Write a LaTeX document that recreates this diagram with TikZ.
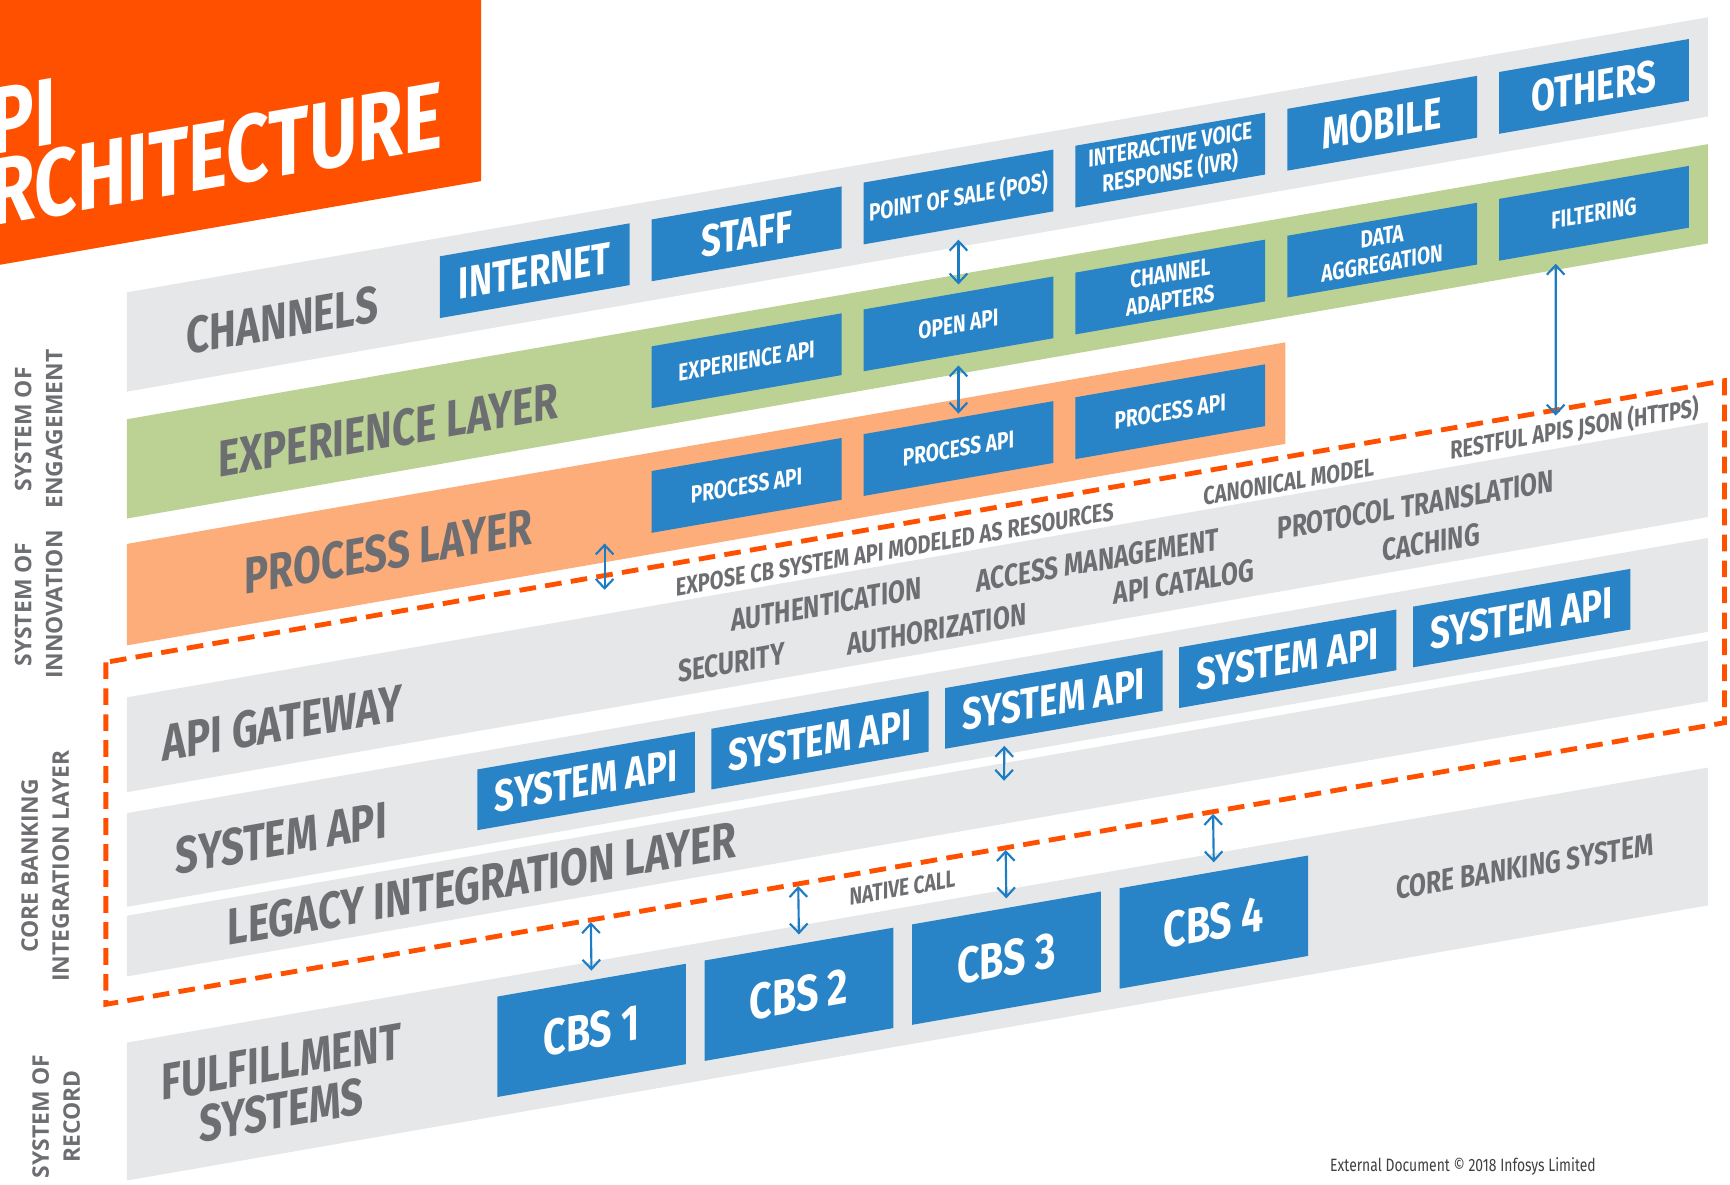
\documentclass[tikz,border=0pt]{standalone}
\usepackage{fontspec}
\usepackage{xcolor}
\usepackage{tikz}
\usetikzlibrary{arrows.meta}

\newfontfamily\narrowfont{Fira Sans}[FakeStretch=0.78]
\newfontfamily\sidefont{Open Sans}

\definecolor{tileblue}{HTML}{2884C6}
\definecolor{linkblue}{HTML}{1C7CC4}
\definecolor{bandgray}{HTML}{E6E7E8}
\definecolor{bandgreen}{HTML}{BCD294}
\definecolor{bandorange}{HTML}{FDAD7A}
\definecolor{brandorange}{HTML}{FF5000}
\definecolor{textgray}{HTML}{6D6E71}

\tikzstyle{tile} = [
    rectangle, fill=tileblue, text=white, inner sep=0pt, anchor=north west,
    align=center, font=\narrowfont\bfseries\fontsize{11.5}{12}\selectfont
]
\tikzstyle{chtile} = [tile, minimum width=17.2mm, minimum height=5.6mm]
\tikzstyle{systile} = [tile, minimum width=19.7mm, minimum height=5.5mm]
\tikzstyle{cbstile} = [tile, minimum width=17.1mm, minimum height=9.1mm,
    font=\narrowfont\bfseries\fontsize{13}{14}\selectfont]
\tikzstyle{smalltext} = [font=\narrowfont\bfseries\fontsize{6.3}{7}\selectfont]
\tikzstyle{layerlabel} = [
    text=textgray, align=center, inner sep=0.5pt,
    font=\narrowfont\bfseries\fontsize{13.3}{12.5}\selectfont
]
\tikzstyle{feature} = [text=textgray, inner sep=0.5pt,
    font=\narrowfont\bfseries\fontsize{8.1}{9}\selectfont]
\tikzstyle{note} = [text=textgray, inner sep=0.5pt,
    font=\narrowfont\bfseries\fontsize{6.6}{7}\selectfont]
\tikzstyle{sidelabel} = [
    text=textgray, align=center, rotate=90,
    font=\sidefont\bfseries\fontsize{5.9}{8}\selectfont
]
\tikzstyle{titletext} = [
    anchor=base west, inner sep=0pt, text=white,
    font=\narrowfont\bfseries\fontsize{24.6}{25}\selectfont
]
\tikzstyle{link} = [
    {Straight Barb[length=0.85mm, width=1.6mm]}-{Straight Barb[length=0.85mm, width=1.6mm]},
    line width=0.55pt, draw=linkblue
]
\tikzstyle{cbframe} = [draw=brandorange, line width=1.25pt, dash pattern=on 4.3pt off 2.4pt]

\begin{document}
\begin{tikzpicture}[x=0.1mm, y=-0.1mm]
    \useasboundingbox (0,0) rectangle (1568,1074);
    \clip (0,0) rectangle (1568,1074);

    % everything below sits on the slope
    \begin{scope}[yslant=0.174, transform shape]

        % Title block
        \fill[brandorange] (-10,-200) rectangle (436,240);
        \node[titletext] (title1) at (-50,139) {API};
        \node[titletext] (title2) at (-50,204) {ARCHITECTURE};

        % Bands
        \fill[bandgray] (115,285) rectangle (1548,375);
        \fill[bandgreen] (115,400) rectangle (1548,490);
        \fill[bandorange] (115,513) rectangle (1165,605);
        \fill[bandgray] (115,652) rectangle (1548,738);
        \fill[bandgray] (115,757) rectangle (1548,842);
        \fill[bandgray] (115,850) rectangle (1548,905);
        \fill[bandgray] (115,965) rectangle (1548,1090);

        % Band names
        \node[layerlabel] (channels) at (256,335) {CHANNELS};
        \node[layerlabel] (explayer) at (352,451) {EXPERIENCE LAYER};
        \node[layerlabel] (proclayer) at (352,561) {PROCESS LAYER};
        \node[layerlabel] (gateway) at (256,700) {API GATEWAY};
        \node[layerlabel] (sysapi) at (255,804) {SYSTEM API};
        \node[layerlabel] (legacy) at (437,877) {LEGACY INTEGRATION LAYER};
        \node[layerlabel] (fulfil) at (255,1029) {FULFILLMENT\\SYSTEMS};

        % Channels
        \node[chtile] (internet) at (398,301) {INTERNET};
        \node[chtile] (staff) at (590,301) {STAFF};
        \node[chtile, smalltext] (pos) at (782,301) {POINT OF SALE (POS)};
        \node[chtile, smalltext] (ivr) at (974,301) {INTERACTIVE VOICE\\RESPONSE (IVR)};
        \node[chtile] (mobile) at (1166,301) {MOBILE};
        \node[chtile] (others) at (1358,301) {OTHERS};

        % Experience layer
        \node[chtile, smalltext] (expapi) at (590,416) {EXPERIENCE API};
        \node[chtile, smalltext] (openapi) at (782,416) {OPEN API};
        \node[chtile, smalltext] (adapters) at (974,416) {CHANNEL\\ADAPTERS};
        \node[chtile, smalltext] (aggr) at (1166,416) {DATA\\AGGREGATION};
        \node[chtile, smalltext] (filter) at (1358,416) {FILTERING};

        % Process layer
        \node[chtile, smalltext] (proc1) at (590,529) {PROCESS API};
        \node[chtile, smalltext] (proc2) at (782,529) {PROCESS API};
        \node[chtile, smalltext] (proc3) at (974,529) {PROCESS API};

        % Gateway services
        \node[note] (expose) at (811,639) {EXPOSE CB SYSTEM API MODELED AS RESOURCES};
        \node[note] (canon) at (1168,640) {CANONICAL MODEL};
        \node[note] (restful) at (1427,637) {RESTFUL APIS JSON (HTTPS)};
        \node[feature] (authn) at (749,678) {AUTHENTICATION};
        \node[feature] (access) at (995,681) {ACCESS MANAGEMENT};
        \node[feature] (proto) at (1283,681) {PROTOCOL TRANSLATION};
        \node[feature] (security) at (663,716) {SECURITY};
        \node[feature] (authz) at (849,718) {AUTHORIZATION};
        \node[feature] (catalog) at (1073,714) {API CATALOG};
        \node[feature] (caching) at (1297,717) {CACHING};

        % System APIs
        \node[systile] (sys1) at (432,772) {SYSTEM API};
        \node[systile] (sys2) at (644,772) {SYSTEM API};
        \node[systile] (sys3) at (856,772) {SYSTEM API};
        \node[systile] (sys4) at (1068,772) {SYSTEM API};
        \node[systile] (sys5) at (1280,772) {SYSTEM API};

        % Core banking systems
        \node[cbstile] (cbs1) at (450,981) {CBS 1};
        \node[cbstile] (cbs2) at (638,981) {CBS 2};
        \node[cbstile] (cbs3) at (826,981) {CBS 3};
        \node[cbstile] (cbs4) at (1014,981) {CBS 4};
        \node[note, font=\narrowfont\bfseries\fontsize{6.3}{7}\selectfont]
            (native) at (818,947) {NATIVE CALL};
        \node[feature] (cbsys) at (1382,1026) {CORE BANKING SYSTEM};

        % Integration frame
        \draw[cbframe] (96,617) rectangle (1563,927);

        % Arrows
        \draw[link, shorten <=1mm, shorten >=0.7mm] (pos.south) -- (openapi.north);
        \draw[link, shorten <=0.9mm, shorten >=0.3mm] (openapi.south) -- (proc2.north);
        \path (filter.south west) -- (filter.south east) coordinate[pos=0.3] (filtout);
        \coordinate (restin) at (1410,622);
        \draw[link, shorten <=1.1mm] (filtout) -- (restin);
        \coordinate (procout) at (548,588);
        \coordinate (exposein) at (548,630);
        \draw[link] (procout) -- (exposein);
        \path (sys3.south west) -- (sys3.south east) coordinate[pos=0.274] (sysout);
        \coordinate (legacyin) at (910,866);
        \draw[link, shorten <=0.6mm] (sysout) -- (legacyin);
        \coordinate (call1) at (535.5,929);
        \coordinate (call2) at (723.5,929);
        \coordinate (call3) at (911.5,929);
        \coordinate (call4) at (1099.5,929);
        \draw[link, shorten >=0.8mm] (call1) -- (cbs1.north);
        \draw[link, shorten >=0.8mm] (call2) -- (cbs2.north);
        \draw[link, shorten >=0.8mm] (call3) -- (cbs3.north);
        \draw[link, shorten >=0.8mm] (call4) -- (cbs4.north);
    \end{scope}

    % Side captions
    \node[sidelabel] (engage) at (35,389) {SYSTEM OF\\ENGAGEMENT};
    \node[sidelabel] (innov) at (35,548) {SYSTEM OF\\INNOVATION};
    \node[sidelabel] (corebank) at (41,785) {CORE BANKING\\INTEGRATION LAYER};
    \node[sidelabel] (record) at (51,1012) {SYSTEM OF\\RECORD};

    % Footer
    \node[text=black!75, font=\narrowfont\fontsize{4.6}{5}\selectfont]
        (copyright) at (1326,1057) {External Document \textcopyright{} 2018 Infosys Limited};
\end{tikzpicture}
\end{document}
